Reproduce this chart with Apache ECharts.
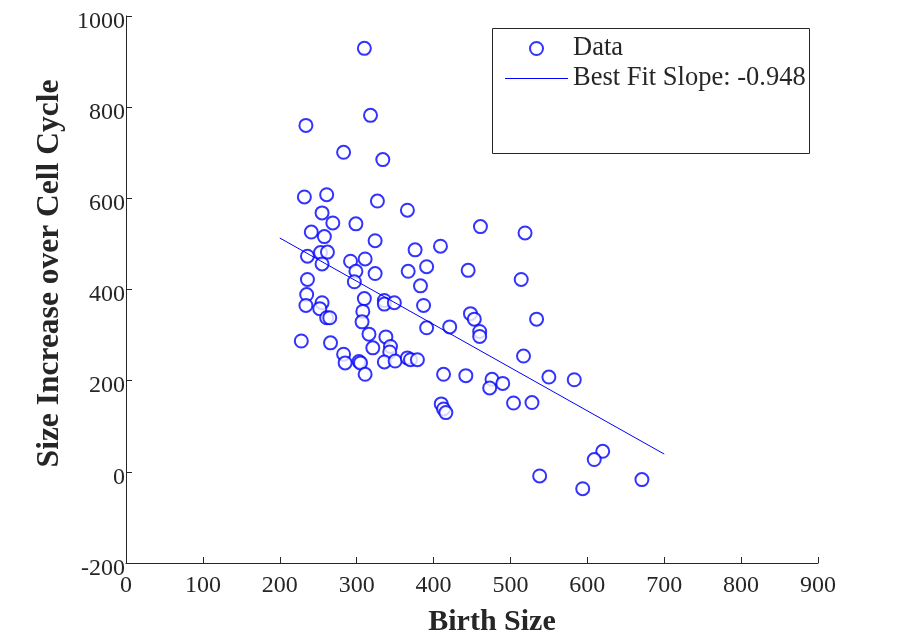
<!DOCTYPE html>
<html>
<head>
<meta charset="utf-8">
<script src="https://cdn.jsdelivr.net/npm/echarts@6/dist/echarts.min.js"></script>
<style>
  html, body { margin: 0; padding: 0; background: #fff; }
  #chart { width: 897px; height: 634px; }
</style>
</head>
<body>
<div id="chart"></div>
<script>
// birth size (x) and size increase over cell cycle (y)
const birthSize = [
  310, 318, 234, 283, 334, 232, 261, 327, 366, 255, 269, 299, 241, 258, 324, 376, 409, 461, 519,
  236, 253, 262, 255, 292, 311, 299, 324, 367, 391, 445, 514, 297, 383, 236, 235, 234, 255, 252,
  261, 265, 310, 336, 336, 349, 308, 387, 307, 391, 448, 453, 534, 460, 460, 421, 228, 266, 316,
  338, 321, 344, 343, 283, 285, 303, 305, 336, 350, 366, 370, 379, 311, 413, 442, 476, 490, 473,
  504, 528, 550, 583, 517, 410, 413, 416, 620, 609, 538, 594, 671
];
const sizeIncrease = [
  929, 782, 760, 701, 685, 603, 608, 594, 574, 568, 546, 544, 526, 516, 507, 487, 495, 538, 524,
  473, 481, 482, 456, 462, 467, 440, 435, 440, 450, 442, 422, 417, 408, 422, 389, 365, 371, 358,
  338, 338, 380, 376, 368, 371, 352, 365, 329, 316, 347, 335, 335, 308, 297, 318, 287, 283, 302,
  296, 272, 275, 263, 258, 239, 242, 239, 241, 243, 250, 246, 246, 214, 214, 211, 203, 194, 184,
  151, 152, 208, 202, 254, 149, 138, 130, 45, 27, -9, -37, -17
];
// best fit line end points
const fitX = [200, 700];
const fitY = [513, 39];
const fitSlope = -0.948;

const xTicks = { min: 0, max: 900, step: 100 };
const yTicks = { min: -200, max: 1000, step: 200 };

const serif = '"Liberation Serif", "DejaVu Serif", serif';
const ink = '#262626';
const blue = '#0000ff';

function init() {
  const points = birthSize.map((x, i) => [x, sizeIncrease[i]]);
  const fitLine = fitX.map((x, i) => [x, fitY[i]]);
  const fitName = 'Best Fit Slope: ' + fitSlope;

  let option = {
    animation: false,
    backgroundColor: '#fff',
    grid: { left: 126, right: 79, top: 16, bottom: 71, outerBoundsMode: 'none', containLabel: false },
    xAxis: {
      type: 'value',
      min: xTicks.min,
      max: xTicks.max,
      interval: xTicks.step,
      name: 'Birth Size',
      nameLocation: 'middle',
      nameGap: 44,
      nameTextStyle: {
        fontFamily: serif, fontSize: 30, fontWeight: 'bold', color: ink,
        padding: [0, 0, 0, 40]
      },
      axisLine: { show: true, onZero: false, lineStyle: { color: ink, width: 1 } },
      axisTick: { show: true, inside: true, length: 6, lineStyle: { color: ink } },
      axisLabel: { fontFamily: serif, fontSize: 24, color: ink, margin: 11 },
      splitLine: { show: false }
    },
    yAxis: {
      type: 'value',
      min: yTicks.min,
      max: yTicks.max,
      interval: yTicks.step,
      name: 'Size Increase over Cell Cycle',
      nameLocation: 'middle',
      nameGap: 36,
      nameRotate: 90,
      nameTextStyle: {
        fontFamily: serif, fontSize: 31.5, fontWeight: 'bold', color: ink,
        padding: [0, 0, 0, 32]
      },
      axisLine: { show: true, onZero: false, lineStyle: { color: ink, width: 1 } },
      axisTick: { show: true, inside: true, length: 6, lineStyle: { color: ink } },
      axisLabel: {
        fontFamily: serif, fontSize: 24, color: ink, margin: 1,
        verticalAlign: 'top', lineHeight: 11,
        formatter: (v) => String(v)
      },
      splitLine: { show: false }
    },
    legend: {
      orient: 'vertical',
      left: 505,
      top: 35,
      padding: 0,
      itemWidth: 63,
      itemHeight: 13,
      itemGap: 3,
      itemTextGap: 8,
      symbolKeepAspect: true,
      textStyle: { fontFamily: serif, fontSize: 26.5, lineHeight: 26, color: ink },
      data: [
        { name: 'Data' },
        { name: fitName, icon: 'path://M0,0L63,0L63,1L0,1Z' }
      ]
    },
    graphic: [{
      type: 'rect',
      z: -1,
      shape: { x: 492.5, y: 28.5, width: 317, height: 125 },
      style: { fill: '#fff', stroke: ink, lineWidth: 1 }
    }],
    series: [{
      name: 'Data',
      type: 'scatter',
      symbol: 'emptyCircle',
      symbolSize: 13,
      itemStyle: { color: blue, borderColor: blue, borderWidth: 1.3 },
      data: points
    }, {
      name: fitName,
      type: 'line',
      symbol: 'none',
      lineStyle: { color: blue, width: 1 },
      itemStyle: { color: blue },
      data: fitLine
    }]
  };

  let chartDom = document.getElementById('chart');
  let myChart = echarts.init(chartDom);
  myChart.setOption(option);
}
init();
</script>
</body>
</html>
